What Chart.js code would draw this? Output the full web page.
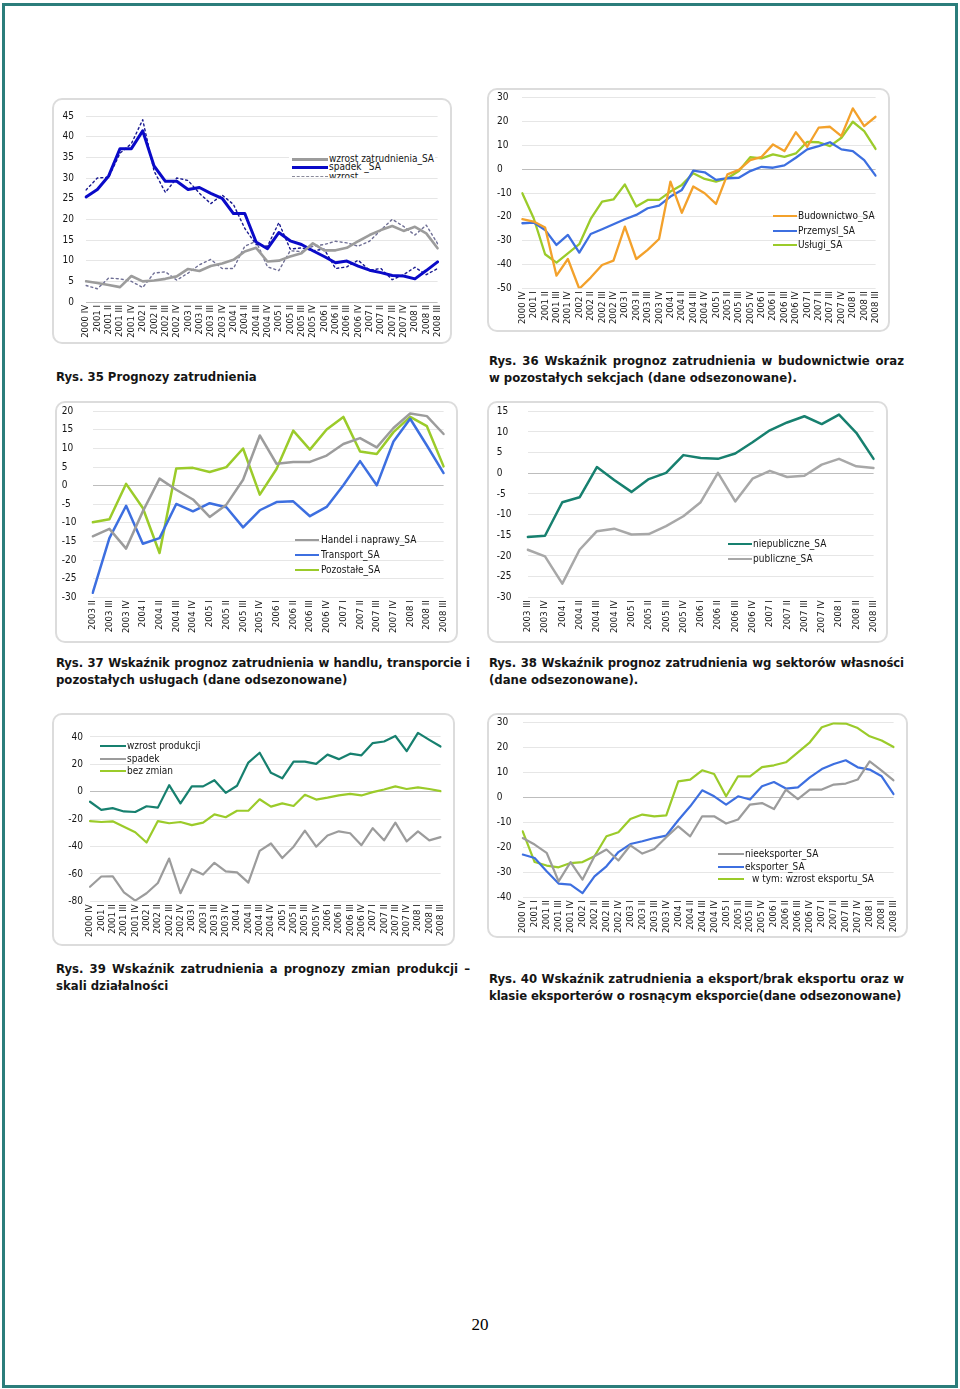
<!DOCTYPE html>
<html>
<head>
<meta charset="utf-8">
<script src="https://cdn.jsdelivr.net/npm/chart.js@4.4.1/dist/chart.umd.min.js"></script>
<style>
body { margin: 0; background: #fff; width: 960px; height: 1389px; position: relative; overflow: hidden;
       font-family: "DejaVu Sans Condensed", "DejaVu Sans", sans-serif; }
.frame { position: absolute; left: 2px; top: 3px; width: 956px; height: 1385px; border: 3px solid #2b7d7b; box-sizing: border-box; }
.box { position: absolute; border: 2px solid #dcdcdc; border-radius: 10px; box-sizing: border-box; }
canvas { position: absolute; }
.cap { position: absolute; font-weight: bold; font-size: 13px; line-height: 16.5px; color: #151515; }
.cap div { text-align: justify; text-align-last: justify; }
.cap div.last { text-align-last: left; }
.leg { position: absolute; overflow: hidden; }
.leg .t { position: absolute; font-size: 10px; line-height: 12px; color: #151515; white-space: nowrap; }
.leg .l { position: absolute; }
.pg { position: absolute; left: 0; width: 960px; top: 1315px; text-align: center; font-family: "Liberation Serif", serif; font-size: 17px; }
</style>
</head>
<body>
<div class="frame"></div>

<div class="box" style="left:52px;top:98px;width:400px;height:246px"></div>
<div class="box" style="left:487px;top:88px;width:403px;height:244px"></div>
<div class="box" style="left:55px;top:401px;width:403px;height:242px"></div>
<div class="box" style="left:487px;top:401px;width:401px;height:242px"></div>
<div class="box" style="left:52px;top:713px;width:403px;height:233px"></div>
<div class="box" style="left:487px;top:713px;width:421px;height:225px"></div>

<canvas id="c1" width="400" height="246" style="left:52px;top:98px"></canvas>
<canvas id="c2" width="403" height="244" style="left:487px;top:88px"></canvas>
<canvas id="c3" width="403" height="242" style="left:55px;top:401px"></canvas>
<canvas id="c4" width="401" height="242" style="left:487px;top:401px"></canvas>
<canvas id="c5" width="403" height="233" style="left:52px;top:713px"></canvas>
<canvas id="c6" width="421" height="225" style="left:487px;top:713px"></canvas>

<div class="cap" style="left:56px;top:369px;width:420px">
  <div class="last">Rys. 35 Prognozy zatrudnienia</div>
</div>
<div class="cap" style="left:489px;top:353px;width:415px">
  <div>Rys. 36 Wskaźnik prognoz zatrudnienia w budownictwie oraz</div>
  <div class="last">w pozostałych sekcjach (dane odsezonowane).</div>
</div>
<div class="cap" style="left:56px;top:655px;width:414px">
  <div>Rys. 37 Wskaźnik prognoz zatrudnienia w handlu, transporcie i</div>
  <div class="last">pozostałych usługach (dane odsezonowane)</div>
</div>
<div class="cap" style="left:489px;top:655px;width:415px">
  <div>Rys. 38 Wskaźnik prognoz zatrudnienia wg sektorów własności</div>
  <div class="last">(dane odsezonowane).</div>
</div>
<div class="cap" style="left:56px;top:961px;width:414px">
  <div>Rys. 39 Wskaźnik zatrudnienia a prognozy zmian produkcji –</div>
  <div class="last">skali działalności</div>
</div>
<div class="cap" style="left:489px;top:971px;width:415px">
  <div>Rys. 40 Wskaźnik zatrudnienia a eksport/brak eksportu oraz w</div>
  <div class="last">klasie eksporterów o rosnącym eksporcie(dane odsezonowane)</div>
</div>
<div class="pg">20</div>

<script>
// quarters 2000 IV .. 2008 III
const quarters = ['2000 IV',
  '2001 I', '2001 II', '2001 III', '2001 IV',
  '2002 I', '2002 II', '2002 III', '2002 IV',
  '2003 I', '2003 II', '2003 III', '2003 IV',
  '2004 I', '2004 II', '2004 III', '2004 IV',
  '2005 I', '2005 II', '2005 III', '2005 IV',
  '2006 I', '2006 II', '2006 III', '2006 IV',
  '2007 I', '2007 II', '2007 III', '2007 IV',
  '2008 I', '2008 II', '2008 III'];
const quartersFrom2003II = quarters.slice(10);
const quartersFrom2003III = quarters.slice(11);

// Rys. 35
const wzrostSA = [5.0, 4.6, 4.1, 3.6, 6.3, 5.0, 5.2, 5.6, 6.2, 8.0, 7.5, 8.7, 9.3, 10.2, 12.2, 13.1,
  9.8, 10.0, 11.0, 11.8, 14.2, 12.5, 12.5, 13.1, 14.7, 16.2, 17.4, 18.4, 17.2, 18.2, 16.6, 13.0];
const spadekSA = [25.4, 27.2, 30.5, 37.1, 37.1, 41.4, 32.9, 29.2, 29.2, 27.2, 27.7, 26.3, 25.1, 21.4, 21.4, 14.5,
  12.9, 16.8, 14.8, 13.9, 12.4, 11.0, 9.5, 9.9, 8.7, 7.7, 7.1, 6.4, 6.3, 5.6, 7.6, 9.7];
const wzrost = [4.0, 3.2, 5.8, 5.6, 5.0, 3.5, 7.0, 7.3, 5.3, 7.0, 9.0, 10.3, 8.1, 8.1, 13.5, 14.7,
  8.5, 7.6, 12.4, 12.2, 13.5, 13.9, 14.7, 14.3, 13.5, 14.7, 17.4, 20.0, 18.3, 16.2, 18.6, 14.1];
const spadek = [27.1, 30.0, 30.2, 36.0, 38.3, 44.1, 31.7, 26.5, 30.0, 29.4, 26.3, 23.8, 25.9, 23.6, 17.8, 13.9,
  13.5, 19.2, 12.8, 13.1, 12.4, 12.8, 8.1, 8.5, 10.1, 7.7, 8.1, 5.4, 6.6, 8.4, 6.6, 8.1];

// Rys. 36
const budownictwo = [-21.0, -22.0, -24.5, -44.7, -37.7, -50.2, -45.5, -40.2, -38.4, -24.1, -37.7, -33.9, -29.3, -5.2, -18.3, -7.3,
  -10.1, -14.6, -2.2, -0.3, 3.8, 5.2, 10.4, 7.6, 15.5, 9.4, 17.4, 17.8, 13.9, 25.5, 18.1, 22.0];
const przemysl = [-22.7, -22.4, -25.5, -31.8, -27.6, -35.0, -27.2, -25.2, -23.1, -21.0, -19.2, -16.4, -15.3, -11.5, -8.7, -0.6,
  -1.3, -4.5, -3.8, -3.6, -0.8, 1.0, 0.6, 1.6, 4.8, 8.3, 9.7, 11.3, 8.3, 7.6, 3.8, -2.7];
const uslugi = [-10.1, -20.6, -35.7, -39.2, -35.3, -31.5, -20.9, -13.6, -12.7, -6.4, -15.7, -12.9, -12.9, -9.4, -6.6, -1.7,
  -4.1, -5.2, -3.8, -0.8, 5.0, 4.5, 6.2, 5.2, 6.6, 11.5, 11.3, 9.7, 13.2, 19.9, 16.0, 8.5];

// Rys. 37
const handel = [-13.6, -11.6, -16.9, -6.9, 1.9, -1.1, -3.7, -8.4, -5.1, 1.6, 13.5,
  5.9, 6.4, 6.4, 8.1, 11.2, 12.8, 10.3, 15.5, 19.4, 18.7, 13.9];
const transport = [-28.8, -14.1, -5.4, -15.6, -14.1, -4.9, -6.9, -4.7, -5.8, -11.2, -6.6,
  -4.4, -4.2, -8.2, -5.7, 0.1, 6.6, 0.1, 11.9, 18.0, 10.8, 3.4];
const pozostale = [-9.8, -9.0, 0.5, -6.0, -18.1, 4.6, 4.8, 3.7, 5.0, 10.0, -2.4,
  4.5, 14.8, 9.7, 15.1, 18.5, 9.2, 8.5, 14.4, 18.5, 16.0, 5.2];

// Rys. 38
const niepubliczne = [-15.4, -15.1, -7.0, -5.8, 1.5, -1.6, -4.5, -1.4, 0.1, 4.4, 3.7,
  3.5, 4.8, 7.5, 10.4, 12.3, 13.8, 11.9, 14.2, 9.8, 3.5];
const publiczne = [-18.5, -20.1, -26.7, -18.5, -14.0, -13.4, -14.8, -14.7, -12.8, -10.4, -7.0,
  0.1, -6.8, -1.3, 0.6, -0.9, -0.6, 2.1, 3.5, 1.7, 1.3];

// Rys. 39
const wzrostProdukcji = [-7.3, -13.2, -12.0, -14.4, -14.8, -10.6, -11.6, 4.8, -8.5, 3.9, 3.9, 8.4, -0.8, 4.4, 21.3, 28.5,
  13.8, 9.8, 22.0, 22.0, 20.3, 27.1, 23.8, 27.8, 26.6, 35.5, 36.7, 40.7, 29.7, 43.0, 37.9, 33.0];
const spadekProdukcji = [-69.4, -61.9, -61.7, -73.4, -79.5, -74.1, -66.6, -48.8, -74.1, -56.6, -60.5, -51.9, -58.2, -58.9, -66.4, -43.2,
  -37.8, -48.4, -40.1, -28.4, -40.1, -31.9, -28.9, -30.3, -39.0, -26.6, -35.5, -22.6, -36.2, -28.9, -35.5, -33.1];
const bezZmian = [-21.4, -22.1, -21.6, -25.6, -29.6, -37.1, -21.4, -23.0, -22.1, -24.4, -22.6, -16.5, -18.6, -13.9, -13.9, -5.5,
  -10.9, -8.5, -10.4, -2.2, -5.7, -4.3, -2.7, -1.5, -2.7, -0.3, 1.6, 3.9, 2.0, 3.2, 2.0, 0.4];

// Rys. 40
const nieeksporter = [-16.3, -18.9, -22.2, -33.6, -25.9, -32.9, -23.6, -20.9, -25.3, -19.2, -22.5, -20.7, -16.0, -11.6, -15.6, -7.6,
  -7.6, -10.5, -8.9, -2.9, -2.3, -4.7, 3.1, -0.7, 3.1, 3.1, 5.1, 5.5, 7.1, 14.4, 10.7, 6.8];
const eksporter = [-22.9, -24.3, -29.6, -34.5, -34.9, -38.3, -31.6, -27.6, -21.9, -18.7, -17.6, -16.3, -15.3, -9.2, -3.6, 2.8,
  0.4, -2.9, 0.4, -0.9, 4.4, 6.1, 3.5, 4.0, 8.0, 11.3, 13.3, 14.8, 12.0, 11.1, 8.4, 1.3];
const wzrostEksportu = [-13.6, -25.9, -27.3, -28.0, -26.3, -25.9, -23.6, -15.6, -14.0, -8.7, -6.9, -7.6, -7.2, 6.4, 7.1, 10.8,
  9.3, 0.4, 8.4, 8.4, 12.1, 12.8, 14.0, 18.0, 22.0, 28.0, 29.6, 29.5, 27.7, 24.4, 22.7, 20.1];

const FONT = '"DejaVu Sans Condensed", "DejaVu Sans", sans-serif';
const GRAY = '#9c9c9c';
const BLUE = '#3d6fe0';
const GREEN = '#9bcb2a';
const ORANGE = '#f3a12b';
const TEAL = '#17806f';

function line(label, data, color, width, dash) {
  return { label: label, data: data, borderColor: color, borderWidth: width,
           borderDash: dash || [], fill: false, pointRadius: 0, tension: 0 };
}

function makeChart(id, labels, datasets, o) {
  return new Chart(document.getElementById(id), {
    type: 'line',
    data: { labels: labels, datasets: datasets },
    options: {
      responsive: false,
      animation: false,
      layout: { padding: o.pad },
      plugins: { legend: { display: false }, tooltip: { enabled: false } },
      elements: { line: { borderJoinStyle: 'round', borderCapStyle: 'round' } },
      scales: {
        x: {
          grid: { display: false, drawTicks: false },
          border: { display: false },
          ticks: { autoSkip: false, minRotation: 90, maxRotation: 90, padding: 3,
                   color: '#151515', font: { family: FONT, size: 9.5 } },
          afterFit: s => { s.height = o.xh; }
        },
        y: {
          min: o.min, max: o.max,
          border: { display: false },
          grid: { drawTicks: false, lineWidth: 1,
                  color: c => (c.tick && c.tick.value === 0) ? '#bdbdbd' : '#e6e6e6' },
          ticks: { stepSize: o.step, includeBounds: false, padding: o.tp || 0, crossAlign: o.align || 'near',
                   color: '#151515', font: { family: FONT, size: 10 } },
          afterFit: s => { s.width = o.yw; }
        }
      }
    }
  });
}

makeChart('c1', quarters, [
  line('wzrost zatrudnienia_SA', wzrostSA, GRAY, 2.6),
  line('spadek _SA', spadekSA, '#0a0ac8', 3),
  line('wzrost', wzrost, '#6f6f95', 1.4, [2, 3]),
  line('spadek', spadek, '#1a1a90', 1.4, [2, 3])
], { pad: { left: 0, right: 7, top: 10, bottom: 0 }, yw: 34, tp: 12, xh: 42, min: 0, max: 45, step: 5 });

makeChart('c2', quarters, [
  line('Budownictwo_SA', budownictwo, ORANGE, 2.3),
  line('Przemysl_SA', przemysl, BLUE, 2.3),
  line('Usługi_SA', uslugi, GREEN, 2.3)
], { pad: { left: 10, right: 6, top: 9.7, bottom: 0 }, yw: 25.3, align: 'far', xh: 43.7, min: -50, max: 30, step: 10 });

makeChart('c3', quartersFrom2003II, [
  line('Handel i naprawy_SA', handel, GRAY, 2.5),
  line('Transport_SA', transport, BLUE, 2.5),
  line('Pozostałe_SA', pozostale, GREEN, 2.5)
], { pad: { left: 6.7, right: 8, top: 10.3, bottom: 0 }, yw: 31, align: 'far', xh: 45.7, min: -30, max: 20, step: 5 });

makeChart('c4', quartersFrom2003III, [
  line('niepubliczne_SA', niepubliczne, TEAL, 2.5),
  line('publiczne_SA', publiczne, '#a8a8a8', 2.5)
], { pad: { left: 9.7, right: 9.7, top: 10.3, bottom: 0 }, yw: 31, align: 'far', xh: 45.7, min: -30, max: 15, step: 5 });

makeChart('c5', quarters, [
  line('wzrost produkcji', wzrostProdukcji, TEAL, 2.2),
  line('spadek', spadekProdukcji, GRAY, 2.2),
  line('bez zmian', bezZmian, GREEN, 2.2)
], { pad: { left: 0, right: 6.7, top: 6.3, bottom: 0 }, yw: 38, tp: 7, xh: 44.7, min: -80, max: 48, step: 20 });

makeChart('c6', quarters, [
  line('nieeksporter_SA', nieeksporter, GRAY, 2.2),
  line('eksporter_SA', eksporter, BLUE, 2.2),
  line('w tym: wzrost eksportu_SA', wzrostEksportu, GREEN, 2.2)
], { pad: { left: 9.7, right: 5.7, top: 9.3, bottom: 0 }, yw: 26, align: 'far', xh: 40.7, min: -40, max: 30, step: 5 });

// legends placed inside the plots, as in the original
function legend(box, entries) {
  const d = document.createElement('div');
  d.className = 'leg';
  d.style.cssText = `left:${box.x}px;top:${box.y}px;width:${box.w}px;height:${box.h}px;` +
    (box.bg ? 'background:#fff;' : '');
  entries.forEach(e => {
    const l = document.createElement('div');
    l.className = 'l';
    const w = e.w || 2.5;
    l.style.cssText = `left:${e.x1 - box.x}px;top:${e.y - box.y - w / 2}px;width:${e.x2 - e.x1}px;height:0;` +
      `border-top:${w}px ${e.dash ? 'dashed' : 'solid'} ${e.color};`;
    d.appendChild(l);
    const t = document.createElement('div');
    t.className = 't';
    t.textContent = e.text;
    t.style.left = (e.tx - box.x) + 'px';
    t.style.top = (e.y - box.y - 6.5) + 'px';
    d.appendChild(t);
  });
  document.body.appendChild(d);
}

legend({ x: 289, y: 152, w: 146, h: 26, bg: true }, [
  { text: 'wzrost zatrudnienia_SA', color: GRAY, w: 3, x1: 292, x2: 328, tx: 329, y: 159.5 },
  { text: 'spadek _SA', color: '#0a0ac8', w: 3, x1: 292, x2: 328, tx: 329, y: 167.5 },
  { text: 'wzrost', color: '#8a8a9a', w: 1.5, dash: true, x1: 292, x2: 328, tx: 329, y: 177 }
]);
legend({ x: 770, y: 206, w: 110, h: 48 }, [
  { text: 'Budownictwo_SA', color: ORANGE, x1: 773, x2: 797, tx: 798, y: 216 },
  { text: 'Przemysl_SA', color: BLUE, x1: 773, x2: 797, tx: 798, y: 231 },
  { text: 'Usługi_SA', color: GREEN, x1: 773, x2: 797, tx: 798, y: 245 }
]);
legend({ x: 292, y: 531, w: 130, h: 48 }, [
  { text: 'Handel i naprawy_SA', color: GRAY, x1: 295, x2: 319, tx: 321, y: 540.5 },
  { text: 'Transport_SA', color: BLUE, x1: 295, x2: 319, tx: 321, y: 555.3 },
  { text: 'Pozostałe_SA', color: GREEN, x1: 295, x2: 319, tx: 321, y: 570.3 }
]);
legend({ x: 725, y: 535, w: 110, h: 34 }, [
  { text: 'niepubliczne_SA', color: TEAL, x1: 727.7, x2: 751.7, tx: 753, y: 544.7 },
  { text: 'publiczne_SA', color: '#a8a8a8', x1: 727.7, x2: 751.7, tx: 753, y: 559.7 }
]);
legend({ x: 97, y: 737, w: 110, h: 44 }, [
  { text: 'wzrost produkcji', color: TEAL, x1: 100, x2: 126, tx: 127, y: 746.3 },
  { text: 'spadek', color: GRAY, x1: 100, x2: 126, tx: 127, y: 759 },
  { text: 'bez zmian', color: GREEN, x1: 100, x2: 126, tx: 127, y: 771.3 }
]);
legend({ x: 715, y: 845, w: 160, h: 44 }, [
  { text: 'nieeksporter_SA', color: GRAY, x1: 718, x2: 744, tx: 745, y: 854.7 },
  { text: 'eksporter_SA', color: BLUE, x1: 718, x2: 744, tx: 745, y: 867 },
  { text: 'w tym: wzrost eksportu_SA', color: GREEN, x1: 718, x2: 744, tx: 752, y: 879.7 }
]);

// squeeze caption lines that are wider than their column so each stays on one line
document.querySelectorAll('.cap div').forEach(d => {
  const w = d.parentElement.clientWidth;
  const sp = document.createElement('span');
  sp.textContent = d.textContent.trim();
  d.textContent = '';
  d.appendChild(sp);
  d.style.whiteSpace = 'nowrap';
  d.style.textAlign = 'left';
  d.style.textAlignLast = 'left';
  let ls = 0;
  while (sp.getBoundingClientRect().width > w - 2 && ls > -1.5) {
    ls -= 0.05;
    d.style.letterSpacing = ls + 'px';
  }
  d.style.whiteSpace = '';
  d.style.textAlign = '';
  d.style.textAlignLast = '';
});
</script>
</body>
</html>
